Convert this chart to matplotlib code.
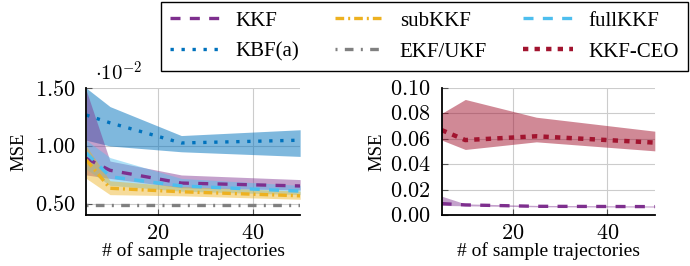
import numpy as np
import matplotlib

matplotlib.use("Agg")
import matplotlib.pyplot as plt

plt.rcParams["font.family"] = ["Liberation Serif", "DejaVu Serif"]
plt.rcParams["mathtext.fontset"] = "cm"

# -----------------------------
# Data (MSE)
# -----------------------------
n_traj = [5, 10, 25, 50]

kkf = [0.894e-2, 0.79e-2, 0.68e-2, 0.655e-2]
kkf_lo = [0.75e-2, 0.72e-2, 0.64e-2, 0.62e-2]
kkf_hi = [1.48e-2, 0.87e-2, 0.75e-2, 0.71e-2]

subkkf = [0.88e-2, 0.635e-2, 0.605e-2, 0.57e-2]
subkkf_lo = [0.72e-2, 0.58e-2, 0.57e-2, 0.54e-2]
subkkf_hi = [1.00e-2, 0.70e-2, 0.65e-2, 0.61e-2]

fullkkf = [0.94e-2, 0.735e-2, 0.655e-2, 0.61e-2]
fullkkf_lo = [0.80e-2, 0.66e-2, 0.61e-2, 0.58e-2]
fullkkf_hi = [1.05e-2, 0.90e-2, 0.72e-2, 0.66e-2]

kbf = [1.267e-2, 1.20e-2, 1.026e-2, 1.05e-2]
kbf_lo = [1.05e-2, 1.00e-2, 0.95e-2, 0.91e-2]
kbf_hi = [1.50e-2, 1.34e-2, 1.09e-2, 1.14e-2]

ekf = [0.49e-2, 0.49e-2, 0.49e-2, 0.49e-2]

kkf_ceo = [0.0669, 0.059, 0.062, 0.057]
kkf_ceo_lo = [0.059, 0.0516, 0.0576, 0.0505]
kkf_ceo_hi = [0.080, 0.091, 0.077, 0.066]

# -----------------------------
# Styles
# -----------------------------
C_KKF = "#7E2F8E"
C_SUB = "#EDB120"
C_FULL = "#4DBEEE"
C_KBF = "#0072BD"
C_EKF = "#808080"
C_CEO = "#A2142F"

LW = 2.4
DASH = (0, (3, 2.8))

fig = plt.figure(figsize=(6.9, 2.66), dpi=100)
ax1 = fig.add_axes([0.125, 0.192, 0.310, 0.477])
ax2 = fig.add_axes([0.640, 0.192, 0.309, 0.477])

x = np.array(n_traj)
s = 1e2  # left panel shown in units of 1e-2


def band(ax, lo, hi, color, scale=1.0, alpha=0.45):
    ax.fill_between(x, np.array(lo) * scale, np.array(hi) * scale,
                    color=color, alpha=alpha, lw=0)


# -----------------------------
# Left panel
# -----------------------------
band(ax1, kbf_lo, kbf_hi, C_KBF, s, 0.5)
band(ax1, kkf_lo, kkf_hi, C_KKF, s)
band(ax1, fullkkf_lo, fullkkf_hi, C_FULL, s)
band(ax1, subkkf_lo, subkkf_hi, C_SUB, s)

h_kkf, = ax1.plot(x, np.array(kkf) * s, color=C_KKF, lw=LW, ls=DASH)
h_sub, = ax1.plot(x, np.array(subkkf) * s, color=C_SUB, lw=LW,
                  ls=(0, (2.6, 1.2, 0.6, 1.2)))
h_full, = ax1.plot(x, np.array(fullkkf) * s, color=C_FULL, lw=LW, ls=DASH)
h_kbf, = ax1.plot(x, np.array(kbf) * s, color=C_KBF, lw=LW,
                  ls=(0, (1, 2.3)))
h_ekf, = ax1.plot(x, np.array(ekf) * s, color=C_EKF, lw=LW,
                  ls=(0, (0.6, 2.2, 2.6, 2.2)))

ax1.set_xlim(5, 50)
ax1.set_ylim(0.405, 1.5)
ax1.set_yticks([0.5, 1.0, 1.5])
ax1.set_yticklabels([r"$%.2f$" % v for v in [0.5, 1.0, 1.5]])
ax1.text(0.04, 1.02, r"$\cdot 10^{-2}$", transform=ax1.transAxes,
         fontsize=15, va="bottom", ha="left")

# -----------------------------
# Right panel
# -----------------------------
band(ax2, kkf_ceo_lo, kkf_ceo_hi, C_CEO, alpha=0.5)
band(ax2, kkf_lo, kkf_hi, C_KKF)
ax2.plot(x, kkf, color=C_KKF, lw=LW, ls=DASH)
h_ceo, = ax2.plot(x, kkf_ceo, color=C_CEO, lw=3.2, ls=(0, (1.2, 1.4)))

ax2.set_xlim(5, 50)
ax2.set_ylim(0, 0.1)
yt = [0.0, 0.02, 0.04, 0.06, 0.08, 0.10]
ax2.set_yticks(yt)
ax2.set_yticklabels([r"$%.2f$" % v for v in yt])

for ax in (ax1, ax2):
    ax.set_xticks([20, 40])
    ax.set_xticklabels([r"$20$", r"$40$"])
    ax.grid(True, color="#cccccc", lw=0.8)
    ax.set_axisbelow(True)
    for side in ("top", "right"):
        ax.spines[side].set_visible(False)
    for side in ("left", "bottom"):
        ax.spines[side].set_linewidth(1.3)
    ax.tick_params(labelsize=16, direction="in", length=4, width=0.8,
                   color="#555555")
    ax.tick_params(axis="x", pad=7)
    ax.tick_params(axis="y", pad=8)
    ax.set_xlabel("# of sample trajectories", fontsize=14, labelpad=-1)

ax1.set_ylabel("MSE", fontsize=13.5, labelpad=5)
ax2.set_ylabel("MSE", fontsize=13.5, labelpad=3)

# -----------------------------
# Legend (row-major order as in the original)
# -----------------------------
leg = fig.legend(
    [h_kkf, h_kbf, h_sub, h_ekf, h_full, h_ceo],
    ["KKF", "KBF(a)", "subKKF", "EKF/UKF", "fullKKF", "KKF-CEO"],
    ncol=3, loc="upper right", bbox_to_anchor=(0.997, 0.994),
    borderaxespad=0,
    fontsize=15, frameon=True, fancybox=False, edgecolor="black",
    framealpha=1, handlelength=2.4, columnspacing=1.75,
    borderpad=0.45, labelspacing=0.55, handletextpad=0.7,
)
leg.get_frame().set_linewidth(1.0)

plt.savefig("out.png", dpi=100)
plt.close()
